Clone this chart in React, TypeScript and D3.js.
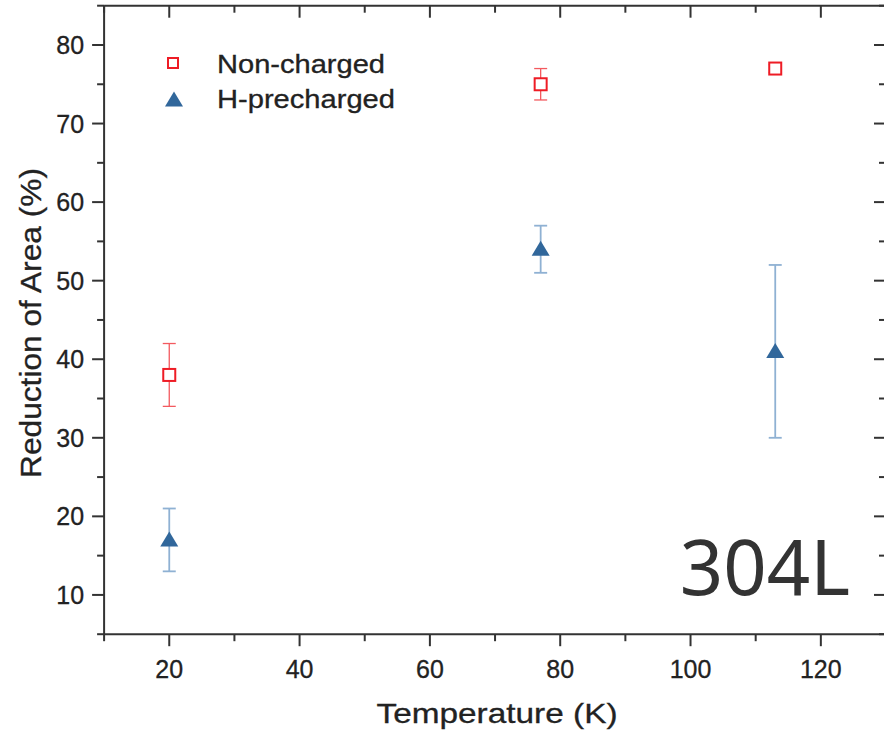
import React from "react";
import * as d3 from "d3";

const temperatures = [20, 77, 113];
const nonChargedRA = [38, 75, 77];
const nonChargedErr = [4, 2, 0.5];
const hChargedRA = [17, 54, 41];
const hChargedErr = [4, 3, 11];

const xMajorTicks = [20, 40, 60, 80, 100, 120];
const xMinorTicks = [10, 30, 50, 70, 90, 110, 130];
const yMajorTicks = [10, 20, 30, 40, 50, 60, 70, 80];
const yMinorTicks = [5, 15, 25, 35, 45, 55, 65, 75, 85];

const W = 884;
const H = 736;
const x = d3.scaleLinear().domain([10, 130]).range([104.1, 886]);
const y = d3.scaleLinear().domain([5, 85]).range([634.2, 5.7]);

const axisColor = "#333";
const redColor = "#ee1c25";
const redErr = "#f35a5f";
const blueColor = "#31679b";
const blueErr = "#8fb1d3";
const font = "'Liberation Sans', Arial, sans-serif";

export default function App() {
  const x0 = x(10), x1 = x(130), yTop = y(85), yBot = y(5);
  const triPath = (cx: number, cy: number, w: number, h: number) =>
    `M${cx - w / 2},${cy + h / 2}L${cx + w / 2},${cy + h / 2}L${cx},${cy - h / 2}Z`;
  return (
    <svg width={W} height={H} style={{ position: "absolute", left: 0, top: 0, background: "#fff" }}>
      {/* axes frame */}
      <line x1={x0} x2={x0} y1={yTop} y2={yBot} stroke={axisColor} strokeWidth={2} />
      <line x1={x0} x2={x1} y1={yBot} y2={yBot} stroke={axisColor} strokeWidth={2} />
      <line x1={x0} x2={x1} y1={yTop} y2={yTop} stroke={axisColor} strokeWidth={2} />
      <line x1={x1} x2={x1} y1={yTop} y2={yBot} stroke={axisColor} strokeWidth={2} />

      {/* x ticks */}
      {xMajorTicks.map((t) => (
        <g key={"xM" + t}>
          <line x1={x(t)} x2={x(t)} y1={yBot} y2={yBot + 12} stroke={axisColor} strokeWidth={2} />
          <line x1={x(t)} x2={x(t)} y1={yTop} y2={yTop + 12} stroke={axisColor} strokeWidth={2} />
          <text x={x(t)} y={yBot + 44} textAnchor="middle" fontFamily={font} fontSize={25} fill="#222"
            stroke="#222" strokeWidth={0.3}>
            {t}
          </text>
        </g>
      ))}
      {xMinorTicks.map((t) => (
        <g key={"xm" + t}>
          <line x1={x(t)} x2={x(t)} y1={yBot} y2={yBot + 7} stroke={axisColor} strokeWidth={2} />
          <line x1={x(t)} x2={x(t)} y1={yTop} y2={yTop + 7} stroke={axisColor} strokeWidth={2} />
        </g>
      ))}
      {/* y ticks */}
      {yMajorTicks.map((t) => (
        <g key={"yM" + t}>
          <line x1={x0} x2={x0 - 12} y1={y(t)} y2={y(t)} stroke={axisColor} strokeWidth={2} />
          <line x1={x1} x2={x1 - 12} y1={y(t)} y2={y(t)} stroke={axisColor} strokeWidth={2} />
          <text x={x0 - 20} y={y(t) + 9} textAnchor="end" fontFamily={font} fontSize={25} fill="#222"
            stroke="#222" strokeWidth={0.3}>
            {t}
          </text>
        </g>
      ))}
      {yMinorTicks.map((t) => (
        <g key={"ym" + t}>
          <line x1={x0} x2={x0 - 7} y1={y(t)} y2={y(t)} stroke={axisColor} strokeWidth={2} />
          <line x1={x1} x2={x1 - 7} y1={y(t)} y2={y(t)} stroke={axisColor} strokeWidth={2} />
        </g>
      ))}

      {/* axis titles */}
      <text x={497} y={723} textAnchor="middle" fontFamily={font} fontSize={28} fill="#222"
        stroke="#222" strokeWidth={0.3} textLength={241} lengthAdjust="spacingAndGlyphs">
        Temperature (K)
      </text>
      <text transform="translate(41,323) rotate(-90)" textAnchor="middle" fontFamily={font} fontSize={29} fill="#222"
        stroke="#222" strokeWidth={0.3} textLength={310} lengthAdjust="spacingAndGlyphs">
        Reduction of Area (%)
      </text>

      {/* error bars */}
      {temperatures.map((t, i) => (
        <g key={"eN" + i} stroke={redErr} strokeWidth={1.3}>
          <line x1={x(t)} x2={x(t)} y1={y(nonChargedRA[i] - nonChargedErr[i])} y2={y(nonChargedRA[i] + nonChargedErr[i])} />
          <line x1={x(t) - 6.5} x2={x(t) + 6.5} y1={y(nonChargedRA[i] - nonChargedErr[i])} y2={y(nonChargedRA[i] - nonChargedErr[i])} />
          <line x1={x(t) - 6.5} x2={x(t) + 6.5} y1={y(nonChargedRA[i] + nonChargedErr[i])} y2={y(nonChargedRA[i] + nonChargedErr[i])} />
        </g>
      ))}
      {temperatures.map((t, i) => (
        <g key={"eH" + i} stroke={blueErr} strokeWidth={1.8}>
          <line x1={x(t)} x2={x(t)} y1={y(hChargedRA[i] - hChargedErr[i])} y2={y(hChargedRA[i] + hChargedErr[i])} />
          <line x1={x(t) - 6.5} x2={x(t) + 6.5} y1={y(hChargedRA[i] - hChargedErr[i])} y2={y(hChargedRA[i] - hChargedErr[i])} />
          <line x1={x(t) - 6.5} x2={x(t) + 6.5} y1={y(hChargedRA[i] + hChargedErr[i])} y2={y(hChargedRA[i] + hChargedErr[i])} />
        </g>
      ))}

      {/* markers */}
      {temperatures.map((t, i) => (
        <rect key={"mN" + i} x={x(t) - 6} y={y(nonChargedRA[i]) - 6} width={12} height={12}
          fill="#fff" stroke={redColor} strokeWidth={2} />
      ))}
      {temperatures.map((t, i) => (
        <path key={"mH" + i} d={triPath(x(t), y(hChargedRA[i]) - 1, 18, 15)} fill={blueColor} />
      ))}

      {/* legend */}
      <rect x={168} y={58} width={10} height={10} fill="#fff" stroke={redColor} strokeWidth={2} />
      <text x={217} y={73} fontFamily={font} fontSize={25} fill="#222" stroke="#222" strokeWidth={0.3}
        textLength={168} lengthAdjust="spacingAndGlyphs">
        Non-charged
      </text>
      <path d={triPath(174, 99, 18, 15)} fill={blueColor} />
      <text x={217} y={108} fontFamily={font} fontSize={25} fill="#222" stroke="#222" strokeWidth={0.3}
        textLength={178} lengthAdjust="spacingAndGlyphs">
        H-precharged
      </text>

      {/* sample label */}
      <text x={850} y={595} textAnchor="end" fontFamily="'Noto Sans', 'Open Sans', sans-serif" fontSize={76} fill="#333">
        304L
      </text>
    </svg>
  );
}
